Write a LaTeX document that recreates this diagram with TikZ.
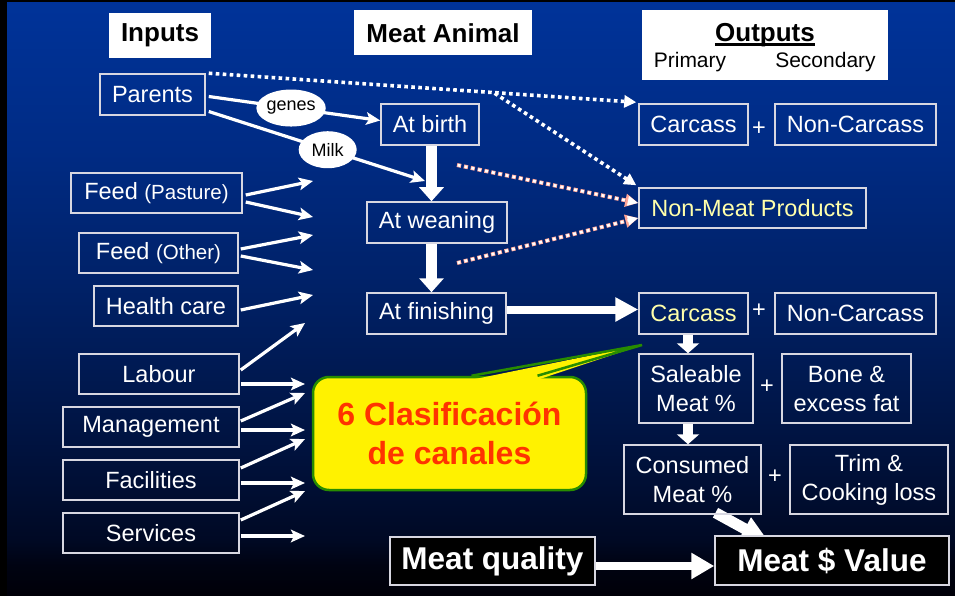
\documentclass[tikz,border=0pt]{standalone}
\usepackage{fontspec}
\setmainfont{Liberation Sans}
\usetikzlibrary{arrows.meta,shapes.geometric}
\pgfdeclarelayer{bg}
\pgfsetlayers{bg,main}
\newcommand{\fsz}[2]{\fontsize{#1}{#2}\selectfont}
\definecolor{bgA}{RGB}{0,0,8}
\definecolor{bgB}{RGB}{0,3,18}
\definecolor{bgC}{RGB}{0,9,36}
\definecolor{bgD}{RGB}{0,18,62}
\definecolor{bgE}{RGB}{0,32,100}
\definecolor{bgF}{RGB}{0,43,132}
\definecolor{bgG}{RGB}{0,51,153}
\definecolor{boxline}{RGB}{215,215,225}
\definecolor{paleyel}{RGB}{255,255,170}
\definecolor{cgreen}{RGB}{40,140,0}
\definecolor{corange}{RGB}{255,51,0}
\definecolor{pinkred}{RGB}{255,165,150}
\pgfdeclareverticalshading{bgsh}{100bp}{color(0bp)=(bgA); color(25bp)=(bgA); color(27.6bp)=(bgB); color(29.7bp)=(bgC); color(37.3bp)=(bgD); color(50bp)=(bgE); color(62.6bp)=(bgF); color(75bp)=(bgG); color(100bp)=(bgG)}
\tikzset{
  ibox/.style={draw=boxline, line width=1.5pt, text=white, inner sep=0pt, font=\fsz{23.5}{29}, align=center},
  ttl/.style={fill=white, text=black, inner sep=0pt, font=\bfseries\fsz{26}{30}},
  blk/.style={fill=black, draw=boxline, line width=1.5pt, text=white, inner sep=0pt, font=\bfseries\fsz{31.5}{36}},
  plussign/.style={text=white, font=\fsz{23.5}{28}, inner sep=0pt},
  lbl/.style={ellipse, fill=white, text=black, inner sep=0pt, font=\fsz{18}{20}, minimum width=58pt, minimum height=37pt},
  inarrow/.style={draw=white, line width=3.2pt, -{Stealth[length=14pt,width=12.5pt,inset=3pt]}},
  dotarrow/.style={draw=white, line width=3.6pt, dash pattern=on 3.6pt off 3.4pt, -{Triangle[length=12pt,width=12pt]}},
  pinkunder/.style={draw=pinkred, line width=4pt, dash pattern=on 4.2pt off 2.8pt, -{Triangle[length=13pt,width=12.5pt]}},
  pinkover/.style={draw=white, line width=2.6pt, dash pattern=on 0pt off 0.7pt on 2.8pt off 3.5pt, -{Triangle[length=10.5pt,width=9pt]}},
  fatarrow/.style={draw=white, line width=11pt, -{Triangle[length=14pt,width=24pt]}},
  smallfat/.style={draw=white, line width=10pt, -{Triangle[length=10pt,width=22pt]}},
}
\begin{document}
\begin{tikzpicture}[x=1pt,y=-1pt]
\useasboundingbox (0,0) rectangle (955,596);
\begin{pgfonlayer}{bg}
\fill[black] (0,0) rectangle (955,596);
\shade[shading=bgsh] (7,3) rectangle (955,596);
\end{pgfonlayer}

% titles
\node[ttl, minimum width=102pt, minimum height=45pt] (inputs) at (160,35.5) {Inputs};
\node[ttl, minimum width=178pt, minimum height=45pt] (animal) at (443,33) {Meat Animal};
\node[ttl, minimum width=246pt, minimum height=70pt] (outbox) at (765,45) {};
\node[font=\bfseries\fsz{26}{30}, inner sep=0pt, anchor=base] (outt) at (765,42) {Outputs};
\draw[line width=2.6pt] ([yshift=-2.8pt]outt.base west) -- ([yshift=-2.8pt]outt.base east);
\node[font=\fsz{21}{24}, inner sep=0pt, anchor=base] (prim) at (690,68) {Primary};
\node[font=\fsz{21}{24}, inner sep=0pt, anchor=base] (secd) at (825.5,68) {Secondary};

% inputs
\node[ibox, minimum width=105pt, minimum height=41pt] (parents) at (152.5,94.5) {Parents};
\node[ibox, minimum width=171pt, minimum height=40pt] (fpast) at (156.5,193) {Feed {\fsz{20.5}{24}(Pasture)}};
\node[ibox, minimum width=159pt, minimum height=40pt] (fother) at (158.5,253) {Feed {\fsz{20.5}{24}(Other)}};
\node[ibox, minimum width=144pt, minimum height=40pt] (health) at (166,306) {Health care};
\node[ibox, minimum width=160pt, minimum height=40pt] (labour) at (159,374) {Labour};
\node[ibox, minimum width=176pt, minimum height=40pt] (manage) at (151,427) {Management};
\node[ibox, minimum width=176pt, minimum height=40pt] (facil) at (151,480) {Facilities};
\node[ibox, minimum width=176pt, minimum height=40pt] (serv) at (151,533) {Services};

% animal stages
\node[ibox, minimum width=98pt, minimum height=41pt] (birth) at (430,124.5) {At birth};
\node[ibox, minimum width=140pt, minimum height=41pt] (wean) at (437,222.5) {At weaning};
\node[ibox, minimum width=139pt, minimum height=41pt] (finish) at (436.5,313.5) {At finishing};

% outputs
\node[ibox, minimum width=109pt, minimum height=41pt] (carc1) at (693.5,124.5) {Carcass};
\node[plussign] (p1) at (759,129) {+};
\node[ibox, minimum width=161pt, minimum height=41pt] (ncarc1) at (855.5,124.5) {Non-Carcass};
\node[ibox, minimum width=227pt, minimum height=40pt, text=paleyel] (nonmeat) at (752.5,208) {Non-Meat Products};
\node[ibox, minimum width=109pt, minimum height=41pt, text=paleyel] (carc2) at (693.5,313.5) {Carcass};
\node[plussign] (p2) at (759,311) {+};
\node[ibox, minimum width=161pt, minimum height=41pt] (ncarc2) at (855.5,313.5) {Non-Carcass};
\node[ibox, minimum width=114pt, minimum height=69pt] (sale) at (696,388.5) {Saleable\\Meat \%};
\node[plussign] (p3) at (767,387) {+};
\node[ibox, minimum width=129pt, minimum height=69pt] (bone) at (846.5,388.5) {Bone \&\\excess fat};
\node[ibox, minimum width=137pt, minimum height=69pt] (cons) at (692.5,479.5) {Consumed\\Meat \%};
\node[plussign] (p4) at (775,477) {+};
\node[ibox, minimum width=158pt, minimum height=69pt] (trim) at (869,479.5) {Trim \&\\Cooking loss};
\node[blk, minimum width=234pt, minimum height=49pt] (mval) at (832,560.5) {Meat \$ Value};
\node[blk, minimum width=205pt, minimum height=48pt] (mqual) at (492.5,561) {Meat quality};

% callout
\node[draw=cgreen, line width=2.5pt, fill=yellow, rounded corners=16pt, minimum width=273pt, minimum height=113pt, text=corange, font=\bfseries\fsz{32}{39}, align=center, inner sep=0pt] (callout) at (449.5,433.5) {6 Clasificación\\de canales};
\coordinate (ptip) at (642,345);
\fill[yellow] ([xshift=22pt,yshift=-4pt]callout.north) -- (ptip) -- ([xshift=88pt,yshift=-4pt]callout.north) -- cycle;
\draw[cgreen, line width=2.5pt] ([xshift=22pt]callout.north) -- (ptip) -- ([xshift=88pt]callout.north);

% parents connectors
\coordinate (milkend) at (425,181);
\draw[inarrow] ([xshift=3pt,yshift=-2pt]parents.east) -- node[lbl,pos=0.48] (genes) {genes} ([yshift=4pt]birth.west);
\draw[inarrow] ([xshift=3pt,yshift=-17pt]parents.east) -- node[lbl,pos=0.55] (milk) {Milk} (milkend);

% input arrows
\coordinate (fpA) at (313,181);
\coordinate (fpB) at (313,217);
\coordinate (foA) at (313,235);
\coordinate (foB) at (313,270);
\coordinate (hcA) at (313,295);
\coordinate (lbA) at (305,323);
\coordinate (lbB) at (305,384);
\coordinate (mgA) at (305,393);
\coordinate (mgB) at (305,430);
\coordinate (fcA) at (305,439);
\coordinate (fcB) at (305,483);
\coordinate (svA) at (305,491);
\coordinate (svB) at (305,536);
\draw[inarrow] ([xshift=3pt,yshift=-2pt]fpast.east) -- (fpA);
\draw[inarrow] ([xshift=3pt,yshift=-9pt]fpast.east) -- (fpB);
\draw[inarrow] ([xshift=2pt,yshift=4pt]fother.east) -- (foA);
\draw[inarrow] ([xshift=2pt,yshift=-3pt]fother.east) -- (foB);
\draw[inarrow] ([xshift=2pt,yshift=-4pt]health.east) -- (hcA);
\draw[inarrow] ([xshift=1pt,yshift=4pt]labour.east) -- (lbA);
\draw[inarrow] ([xshift=1pt,yshift=-10pt]labour.east) -- (lbB);
\draw[inarrow] ([xshift=1pt,yshift=6pt]manage.east) -- (mgA);
\draw[inarrow] ([xshift=1pt,yshift=-3pt]manage.east) -- (mgB);
\draw[inarrow] ([xshift=1pt,yshift=12pt]facil.east) -- (fcA);
\draw[inarrow] ([xshift=1pt,yshift=-3pt]facil.east) -- (fcB);
\draw[inarrow] ([xshift=1pt,yshift=13pt]serv.east) -- (svA);
\draw[inarrow] ([xshift=1pt,yshift=-3pt]serv.east) -- (svB);

% stage arrows
\draw[fatarrow] ([xshift=1.5pt]birth.south) -- ([xshift=1.5pt]birth.south |- wean.north);
\draw[fatarrow] ([xshift=-5.5pt]wean.south) -- ([xshift=-5.5pt]wean.south |- finish.north);
\draw[draw=white, line width=8pt, -{Triangle[length=23pt,width=23pt]}] ([yshift=4pt]finish.east) -- ([yshift=4pt]finish.east -| carc2.west);
\draw[smallfat] ([xshift=-5.5pt]carc2.south) -- ([xshift=-5.5pt]carc2.south |- sale.north);
\draw[smallfat] ([xshift=-8pt]sale.south) -- ([xshift=-8pt]sale.south |- cons.north);
\begin{pgfonlayer}{bg}
\draw[draw=white, line width=11pt, -{Triangle[length=28pt,width=24pt]}] ([xshift=23pt,yshift=2pt]cons.south) -- ([xshift=55pt,yshift=-7pt]mval.north west);
\end{pgfonlayer}
\draw[draw=white, line width=8pt, -{Triangle[length=23pt,width=25pt]}] ([yshift=-5pt]mqual.east) -- ([yshift=-5pt]mqual.east -| mval.west);

% dotted arrows
\path (parents.north east) -- (carc1.north west) coordinate[pos=0.668] (branch);
\draw[dotarrow] ([xshift=3pt]parents.north east) -- ([xshift=-2pt,yshift=1pt]carc1.north west);
\draw[dotarrow] (branch) -- ([xshift=-2pt,yshift=2pt]nonmeat.north west);
\coordinate (pkA) at (457,165);
\coordinate (pkB) at (457,263);
\draw[pinkunder] (pkA) -- ([yshift=5pt]nonmeat.west);
\draw[pinkover] (pkA) -- ([yshift=5pt]nonmeat.west);
\draw[pinkunder] (pkB) -- ([yshift=-10pt]nonmeat.west);
\draw[pinkover] (pkB) -- ([yshift=-10pt]nonmeat.west);
\end{tikzpicture}
\end{document}
